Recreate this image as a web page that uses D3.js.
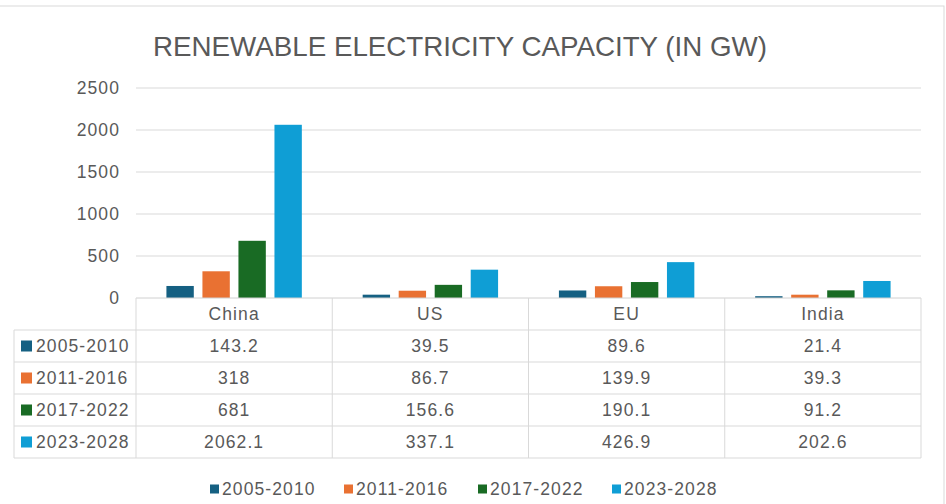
<!DOCTYPE html>
<html>
<head>
<meta charset="utf-8">
<script src="https://cdn.jsdelivr.net/npm/d3@7"></script>
<style>
  body { margin: 0; background: #fff; }
  text { font-family: "Liberation Sans", Arial, sans-serif; fill: #595959; }
</style>
</head>
<body>
<svg width="946" height="504"></svg>
<script>
// data
var categories = ["China", "US", "EU", "India"];
var series = ["2005-2010", "2011-2016", "2017-2022", "2023-2028"];
var v2005 = [143.2, 39.5, 89.6, 21.4];
var v2011 = [318, 86.7, 139.9, 39.3];
var v2017 = [681, 156.6, 190.1, 91.2];
var v2023 = [2062.1, 337.1, 426.9, 202.6];
var yTicks = [0, 500, 1000, 1500, 2000, 2500];
var colors = ["#156082", "#e97132", "#196b24", "#0f9ed5"];
var title = "RENEWABLE ELECTRICITY CAPACITY (IN GW)";

var values = [v2005, v2011, v2017, v2023];

var svg = d3.select("svg"),
    margin = {top: 88, left: 136, right: 25},
    plotBottom = 298,
    tableLeft = 14,
    rowH = 32,
    fs = 17.5,
    ls = 1.1;

// chart frame
svg.append("rect")
    .attr("x", -1).attr("y", 6)
    .attr("width", 945).attr("height", 510)
    .attr("fill", "none")
    .attr("stroke", "#d9d9d9");

svg.append("text")
    .attr("x", 460).attr("y", 56)
    .attr("text-anchor", "middle")
    .attr("font-size", 28)
    .attr("textLength", 614)
    .attr("lengthAdjust", "spacingAndGlyphs")
    .text(title);

var x0 = d3.scaleBand()
    .domain(categories)
    .range([margin.left, 921]);

var bw = x0.bandwidth();
var x1 = d3.scaleBand()
    .domain(series)
    .range([bw * 0.155, bw * 0.845])
    .paddingInner(0.24);

var y = d3.scaleLinear()
    .domain([0, 2500])
    .range([plotBottom, margin.top]);

// gridlines
svg.append("g")
    .selectAll("line")
    .data(yTicks.slice(1))
    .enter().append("line")
    .attr("x1", margin.left).attr("x2", 921)
    .attr("y1", function (d) { return y(d); })
    .attr("y2", function (d) { return y(d); })
    .attr("stroke", "#d9d9d9");

// y axis labels
var yAxis = svg.append("g")
    .attr("transform", "translate(" + (margin.left - 16) + ",0)")
    .call(d3.axisLeft(y).tickValues(yTicks).tickFormat(d3.format("d")).tickSize(0).tickPadding(0));
yAxis.select(".domain").remove();
yAxis.selectAll("text")
    .attr("font-size", fs)
    .attr("font-family", "Liberation Sans, Arial, sans-serif")
    .attr("letter-spacing", ls)
    .attr("fill", "#595959");

// bars
svg.append("g")
    .selectAll("g")
    .data(series)
    .enter().append("g")
    .attr("fill", function (d, i) { return colors[i]; })
    .selectAll("rect")
    .data(function (s, i) {
        return categories.map(function (c, j) { return {s: s, c: c, v: values[i][j]}; });
    })
    .enter().append("rect")
    .attr("x", function (d) { return x0(d.c) + x1(d.s); })
    .attr("width", x1.bandwidth())
    .attr("y", function (d) { return y(d.v); })
    .attr("height", function (d) { return plotBottom - y(d.v); });

// data table
var table = svg.append("g");
var lineColor = "#d9d9d9";
var colEdges = categories.map(function (c) { return x0(c); }).concat([921]);
var tableBottom = plotBottom + rowH * (series.length + 1);

// horizontal lines
table.append("line")
    .attr("x1", margin.left).attr("x2", 921)
    .attr("y1", plotBottom).attr("y2", plotBottom)
    .attr("stroke", "#d0d0d0");
d3.range(1, series.length + 2).forEach(function (r) {
    table.append("line")
        .attr("x1", tableLeft).attr("x2", 921)
        .attr("y1", plotBottom + r * rowH).attr("y2", plotBottom + r * rowH)
        .attr("stroke", lineColor);
});
// vertical lines
colEdges.forEach(function (xv) {
    table.append("line")
        .attr("x1", xv).attr("x2", xv)
        .attr("y1", plotBottom).attr("y2", tableBottom)
        .attr("stroke", lineColor);
});
table.append("line")
    .attr("x1", tableLeft).attr("x2", tableLeft)
    .attr("y1", plotBottom + rowH).attr("y2", tableBottom)
    .attr("stroke", lineColor);

// header row
table.selectAll("text.cat")
    .data(categories)
    .enter().append("text")
    .attr("class", "cat")
    .attr("x", function (d) { return x0(d) + bw / 2; })
    .attr("y", plotBottom + rowH / 2 + 6)
    .attr("text-anchor", "middle")
    .attr("font-size", fs)
    .attr("letter-spacing", ls)
    .text(function (d) { return d; });

// series rows
series.forEach(function (s, i) {
    var rowY = plotBottom + rowH * (i + 1);
    table.append("rect")
        .attr("x", 21).attr("y", rowY + rowH / 2 - 5.5)
        .attr("width", 11).attr("height", 11)
        .attr("fill", colors[i]);
    table.append("text")
        .attr("x", 36).attr("y", rowY + rowH / 2 + 6)
        .attr("font-size", fs)
        .attr("letter-spacing", ls)
        .text(s);
    table.selectAll("text.v" + i)
        .data(values[i])
        .enter().append("text")
        .attr("x", function (d, j) { return x0(categories[j]) + bw / 2; })
        .attr("y", rowY + rowH / 2 + 6)
        .attr("text-anchor", "middle")
        .attr("font-size", fs)
        .attr("letter-spacing", ls)
        .text(function (d) { return String(d); });
});

// legend
var lx = d3.scaleBand().domain(series).range([210, 746]);
var legend = svg.append("g")
    .selectAll("g")
    .data(series)
    .enter().append("g")
    .attr("transform", function (d) { return "translate(" + lx(d) + ",489)"; });
legend.append("rect")
    .attr("x", 0).attr("y", -4.5)
    .attr("width", 9).attr("height", 9)
    .attr("fill", function (d, i) { return colors[i]; });
legend.append("text")
    .attr("x", 12).attr("y", 6)
    .attr("font-size", fs)
    .attr("letter-spacing", ls)
    .text(function (d) { return d; });
</script>
</body>
</html>
